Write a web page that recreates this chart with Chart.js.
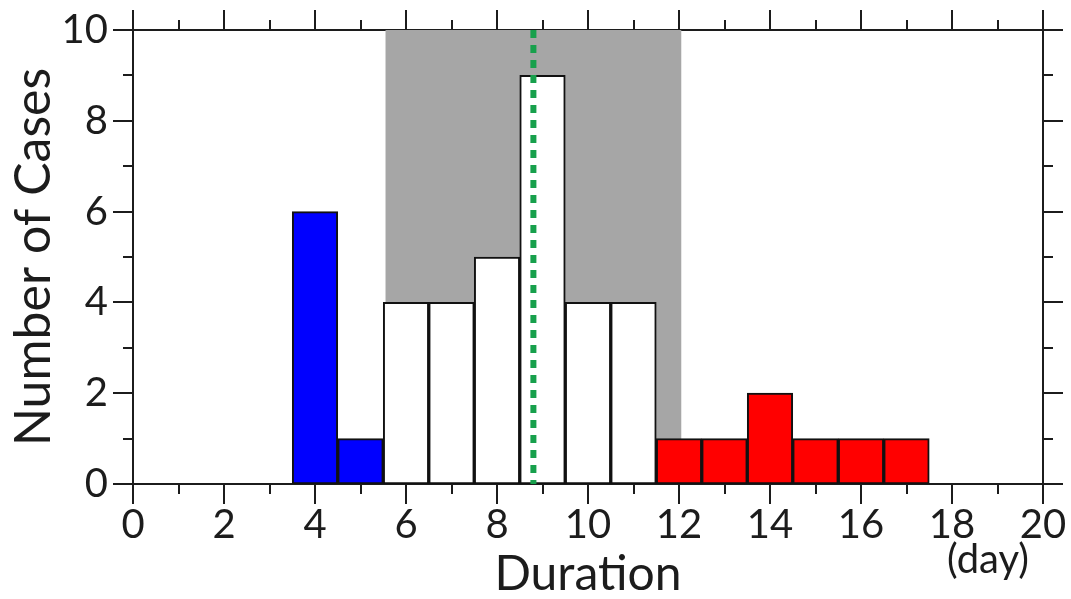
<!DOCTYPE html>
<html>
<head>
<meta charset="utf-8">
<script src="https://cdn.jsdelivr.net/npm/chart.js@4/dist/chart.umd.min.js"></script>
<style>
  html, body { margin: 0; padding: 0; background: #ffffff; }
  #wrap { width: 1071px; height: 599px; }
</style>
</head>
<body>
<div id="wrap"><canvas id="c" width="1071" height="599"></canvas></div>
<script>
// ---- data ----
const shortDays = [4, 5];
const shortCases = [6, 1];
const midDays = [6, 7, 8, 9, 10, 11];
const midCases = [4, 4, 5, 9, 4, 4];
const longDays = [12, 13, 14, 15, 16, 17];
const longCases = [1, 1, 2, 1, 1, 1];
const meanDuration = 8.8;
const bandRange = [5.55, 12.05];
const xTickValues = [0, 2, 4, 6, 8, 10, 12, 14, 16, 18, 20];
const yTickValues = [0, 2, 4, 6, 8, 10];
const xTitle = 'Duration';
const xUnit = '(day)';
const yTitle = 'Number of Cases';

const FONT = 'Lato, "Open Sans", sans-serif';
const WEIGHT = 400;
const INK = '#1c1c1c';

function pts(xs, ys) { return xs.map((x, i) => ({ x: x, y: ys[i] })); }

const bandPlugin = {
  id: 'band',
  beforeDatasetsDraw(chart) {
    const { ctx, chartArea } = chart;
    const xs = chart.scales.x;
    const x0 = xs.getPixelForValue(bandRange[0]);
    const x1 = xs.getPixelForValue(bandRange[1]);
    ctx.save();
    ctx.fillStyle = '#a6a6a6';
    ctx.fillRect(x0, chartArea.top, x1 - x0, chartArea.bottom - chartArea.top);
    ctx.restore();
  }
};

const ticksPlugin = {
  id: 'outerTicks',
  afterDraw(chart) {
    const { ctx, chartArea } = chart;
    const xs = chart.scales.x, ys = chart.scales.y;
    ctx.save();
    ctx.strokeStyle = INK;
    ctx.lineWidth = 2;
    ctx.beginPath();
    for (let v = xs.min; v <= xs.max; v += 1) {
      const len = v % 2 === 0 ? 20 : 10;
      const px = Math.round(xs.getPixelForValue(v));
      ctx.moveTo(px, chartArea.bottom); ctx.lineTo(px, chartArea.bottom + len);
      ctx.moveTo(px, chartArea.top); ctx.lineTo(px, chartArea.top - len);
    }
    for (let v = ys.min; v <= ys.max; v += 1) {
      const len = v % 2 === 0 ? 20 : 10;
      const py = Math.round(ys.getPixelForValue(v));
      ctx.moveTo(chartArea.left, py); ctx.lineTo(chartArea.left - len, py);
      ctx.moveTo(chartArea.right, py); ctx.lineTo(chartArea.right + len, py);
    }
    ctx.stroke();
    // unit label
    ctx.fillStyle = INK;
    ctx.font = WEIGHT + ' 40px ' + FONT;
    ctx.textAlign = 'center';
    ctx.textBaseline = 'middle';
    ctx.fillText(xUnit, 988, chartArea.bottom + 76);
    ctx.restore();
  }
};

const barCommon = {
  type: 'bar',
  borderColor: '#111111',
  borderWidth: 2,
  borderSkipped: false,
  barPercentage: 1,
  categoryPercentage: 1,
  grouped: false,
  order: 2,
  xAxisID: 'x',
  yAxisID: 'y'
};

function noPadX(s) { s.paddingLeft = 0; s.paddingRight = 0; }
function noPadY(s) { s.paddingTop = 0; s.paddingBottom = 0; }

new Chart(document.getElementById('c'), {
  type: 'bar',
  data: {
    datasets: [
      Object.assign({}, barCommon, { label: 'short', data: pts(shortDays, shortCases), backgroundColor: '#0000ff' }),
      Object.assign({}, barCommon, { label: 'mid', data: pts(midDays, midCases), backgroundColor: '#ffffff' }),
      Object.assign({}, barCommon, { label: 'long', data: pts(longDays, longCases), backgroundColor: '#ff0000' }),
      {
        type: 'line',
        label: 'mean',
        data: [{ x: meanDuration, y: 10 }, { x: meanDuration, y: 0 }],
        borderColor: '#17a04c',
        borderWidth: 6,
        borderDash: [8, 7],
        borderCapStyle: 'butt',
        pointRadius: 0,
        order: 0,
        xAxisID: 'x',
        yAxisID: 'y'
      }
    ]
  },
  options: {
    responsive: false,
    animation: false,
    events: [],
    layout: { padding: 0 },
    plugins: { legend: { display: false }, tooltip: { enabled: false } },
    scales: {
      x: {
        type: 'linear', position: 'bottom', min: 0, max: 20, offset: false,
        afterBuildTicks(s) { s.ticks = xTickValues.map(v => ({ value: v })); },
        afterFit(s) { s.height = 115; noPadX(s); },
        grid: { display: false, drawTicks: false, tickLength: 0 },
        border: { display: true, color: INK, width: 2 },
        ticks: { autoSkip: false, maxRotation: 0, padding: 17, color: INK, font: { family: FONT, size: 40, weight: WEIGHT } },
        title: { display: true, text: xTitle, color: INK, font: { family: FONT, size: 48, weight: WEIGHT, lineHeight: 1 }, padding: { top: 0, bottom: 0 } }
      },
      x2: {
        type: 'linear', position: 'top', min: 0, max: 20, offset: false,
        afterFit(s) { s.height = 30; noPadX(s); },
        grid: { display: false, drawTicks: false, tickLength: 0 },
        border: { display: true, color: INK, width: 2 },
        ticks: { display: false }
      },
      y: {
        type: 'linear', position: 'left', min: 0, max: 10,
        afterBuildTicks(s) { s.ticks = yTickValues.map(v => ({ value: v })); },
        afterFit(s) { s.width = 133; noPadY(s); },
        grid: { display: false, drawTicks: false, tickLength: 0 },
        border: { display: true, color: INK, width: 2 },
        ticks: { padding: 25, color: INK, font: { family: FONT, size: 40, weight: WEIGHT } },
        title: { display: true, text: yTitle, color: INK, font: { family: FONT, size: 50, weight: WEIGHT, lineHeight: 1 }, padding: { top: 9, bottom: 0 } }
      },
      y2: {
        type: 'linear', position: 'right', min: 0, max: 10,
        afterFit(s) { s.width = 28; noPadY(s); },
        grid: { display: false, drawTicks: false, tickLength: 0 },
        border: { display: true, color: INK, width: 2 },
        ticks: { display: false }
      }
    }
  },
  plugins: [bandPlugin, ticksPlugin]
});
</script>
</body>
</html>
